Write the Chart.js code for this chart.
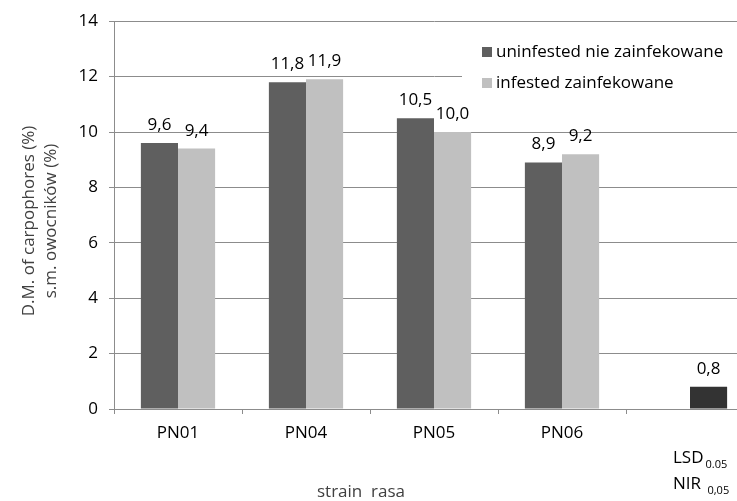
<!DOCTYPE html>
<html>
<head>
<meta charset="utf-8">
<script src="https://cdn.jsdelivr.net/npm/chart.js@4.4.1/dist/chart.umd.min.js"></script>
<style>
  html, body { margin: 0; padding: 0; background: #fff; overflow: hidden; }
  #wrap { width: 737px; height: 501px; overflow: hidden; position: relative; }
  canvas { display: block; }
</style>
</head>
<body>
<div id="wrap"><canvas id="c" width="760" height="501"></canvas></div>
<script>
// Dry matter of carpophores by strain
const categories = ['PN01', 'PN04', 'PN05', 'PN06', ''];
const uninfested = [9.6, 11.8, 10.5, 8.9, null];
const infested = [9.4, 11.9, 10.0, 9.2, null];
const lsd = [null, null, null, null, 0.8];
const seriesNames = ['uninfested nie zainfekowane', 'infested zainfekowane'];
const yTicks = [0, 2, 4, 6, 8, 10, 12, 14];

const FONT = '"Open Sans", "DejaVu Sans", sans-serif';
const SIZE = 17;
const DARK = '#5f5f5f';
const LIGHT = '#c0c0c0';
const LSDCOL = '#333333';
const GRID = '#8c8c8c';

const fmt = v => v.toFixed(1).replace('.', ',');

// value labels above each bar
const valueLabels = {
  id: 'valueLabels',
  afterDatasetsDraw(chart) {
    const ctx = chart.ctx;
    ctx.save();
    ctx.font = SIZE + 'px ' + FONT;
    ctx.fillStyle = '#000';
    ctx.textAlign = 'center';
    ctx.textBaseline = 'alphabetic';
    chart.data.datasets.forEach((ds, i) => {
      const meta = chart.getDatasetMeta(i);
      meta.data.forEach((bar, j) => {
        const v = ds.data[j];
        if (v === null || v === undefined) return;
        ctx.fillText(fmt(v), bar.x, bar.y - 13);
      });
    });
    ctx.restore();
  }
};

// legend box inside the plot, axis titles and the LSD caption
const decorations = {
  id: 'decorations',
  afterDraw(chart) {
    const ctx = chart.ctx;
    const area = chart.chartArea;
    const xs = chart.scales.x;
    ctx.save();

    // legend
    ctx.fillStyle = '#fff';
    ctx.fillRect(462, 30, area.right - 462, 70);
    const cols = [DARK, LIGHT];
    ctx.font = SIZE + 'px ' + FONT;
    ctx.textBaseline = 'middle';
    ctx.textAlign = 'left';
    seriesNames.forEach((name, i) => {
      const y = 52 + i * 31;
      ctx.fillStyle = cols[i];
      ctx.fillRect(482, y - 5, 10, 10);
      ctx.fillStyle = '#000';
      ctx.fillText(name, 496, y);
    });

    // y axis title (two lines)
    ctx.fillStyle = '#404040';
    ctx.font = SIZE + 'px ' + FONT;
    ctx.textAlign = 'center';
    ctx.textBaseline = 'middle';
    ctx.save();
    ctx.translate(29, 221);
    ctx.rotate(-Math.PI / 2);
    ctx.fillText('D.M. of carpophores (%)', 0, 0);
    ctx.fillText('s.m. owocników (%)', 0, 22);
    ctx.restore();

    // x axis title
    ctx.fillText('strain  rasa', 361, 492);

    // LSD / NIR caption under the last column
    const cx = xs.getPixelForValue(4) - 17;
    ctx.fillStyle = '#000';
    ctx.textAlign = 'left';
    ctx.textBaseline = 'alphabetic';
    ctx.font = SIZE + 'px ' + FONT;
    ctx.fillText('LSD', cx, 463);
    let w = ctx.measureText('LSD').width;
    ctx.font = '11px ' + FONT;
    ctx.fillText('0.05', cx + w + 2, 468);
    ctx.font = SIZE + 'px ' + FONT;
    ctx.fillText('NIR', cx, 489);
    w = ctx.measureText('NIR ').width;
    ctx.font = '11px ' + FONT;
    ctx.fillText('0,05', cx + w + 2, 494);

    ctx.restore();
  }
};

new Chart(document.getElementById('c'), {
  type: 'bar',
  data: {
    labels: categories,
    datasets: [
      { label: seriesNames[0], data: uninfested, backgroundColor: DARK, stack: 'a' },
      { label: seriesNames[1], data: infested, backgroundColor: LIGHT, stack: 'b' },
      { label: 'LSD 0.05', data: lsd, backgroundColor: LSDCOL, stack: 'b' }
    ]
  },
  options: {
    responsive: false,
    animation: false,
    devicePixelRatio: 1,
    layout: { padding: { top: 20, right: 6, left: 0, bottom: 0 } },
    datasets: { bar: { categoryPercentage: 0.58, barPercentage: 1.0 } },
    plugins: {
      legend: { display: false },
      tooltip: { enabled: false }
    },
    scales: {
      x: {
        grid: { display: true, drawOnChartArea: false, drawTicks: true, tickLength: 5, color: GRID, offset: true },
        border: { color: GRID },
        ticks: { font: { family: FONT, size: SIZE }, color: '#000', padding: 9, maxRotation: 0 },
        afterFit: s => { s.height = 92; }
      },
      y: {
        min: 0, max: 14,
        afterBuildTicks: s => { s.ticks = yTicks.map(v => ({ value: v })); },
        grid: { color: GRID, tickLength: 5, drawTicks: true },
        border: { color: GRID },
        ticks: { font: { family: FONT, size: SIZE }, color: '#000', padding: 11 },
        afterFit: s => { s.width = 114; }
      }
    }
  },
  plugins: [valueLabels, decorations]
});
</script>
</body>
</html>
